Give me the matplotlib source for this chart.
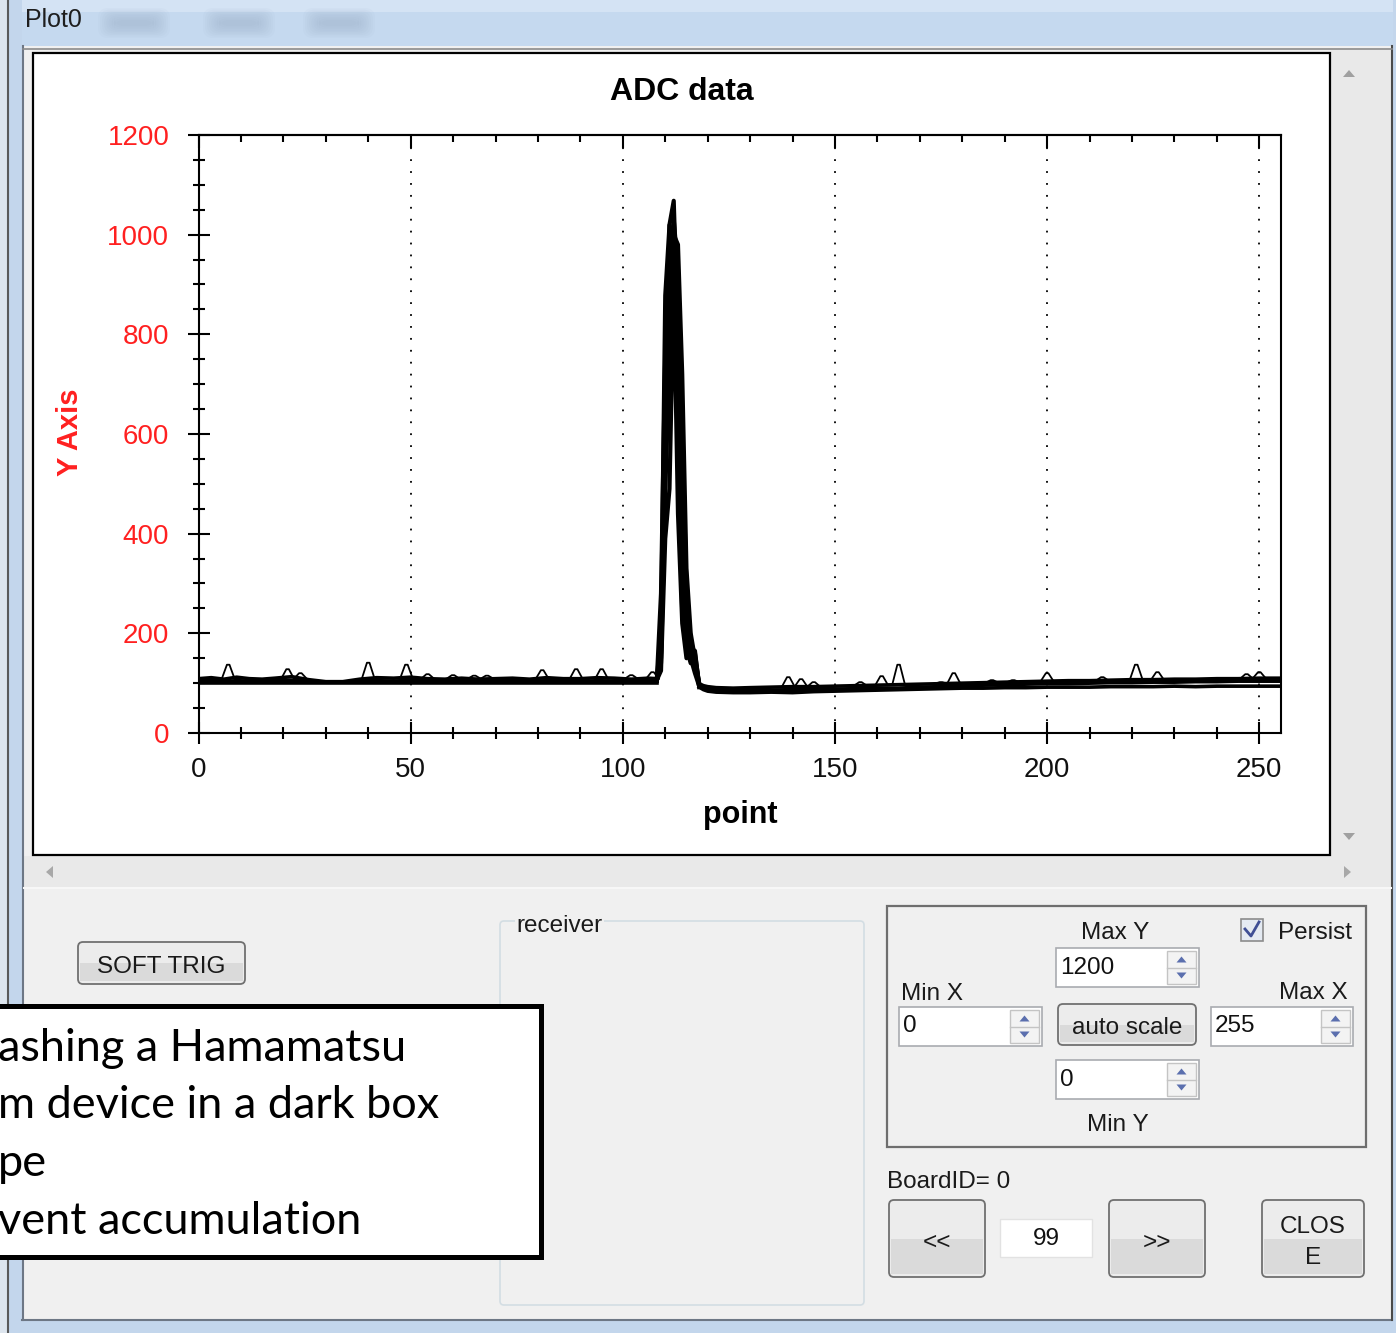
import matplotlib
matplotlib.use("Agg")
import matplotlib.pyplot as plt
from matplotlib.patches import Rectangle, FancyBboxPatch, Polygon
from matplotlib.ticker import MultipleLocator

plt.rcParams['font.family'] = ['Liberation Sans', 'DejaVu Sans']

# ---- data (persisted ADC traces) ----
pre_x = [0, 3, 6, 9, 12, 15, 18, 22, 26, 30, 34, 38, 42, 46, 50, 54, 58, 62, 66, 70, 74, 78, 82, 86, 90, 94, 98, 102, 106, 108]
pre_lo = [100, 100, 100, 100, 100, 100, 100, 100, 100, 100, 100, 100, 100, 100, 100, 100, 100, 100, 100, 100, 100, 100, 100, 100, 100, 100, 100, 100, 100, 100]
pre_mid = [104, 106, 103, 105, 104, 103, 105, 106, 103, 102, 102, 104, 105, 104, 106, 104, 103, 104, 103, 104, 104, 103, 105, 104, 103, 105, 104, 103, 104, 104]
pre_hi = [109, 111, 108, 112, 109, 108, 110, 113, 107, 103, 103, 108, 111, 110, 112, 109, 108, 110, 108, 109, 110, 108, 111, 109, 109, 111, 110, 108, 110, 109]

post_x = [118, 119, 120, 122, 126, 130, 135, 140, 145, 150, 155, 160, 165, 170, 175, 180, 185, 190, 195, 200, 205, 210, 215, 220, 225, 230, 235, 240, 245, 250, 255]
post_lo = [92, 87, 84, 82, 81, 81, 82, 81, 83, 84, 85, 86, 87, 88, 89, 90, 90, 91, 91, 92, 92, 92, 93, 93, 93, 94, 93, 94, 94, 94, 94]
post_mid = [96, 91, 88, 86, 85, 86, 86, 87, 87, 88, 89, 90, 90, 92, 93, 95, 96, 97, 98, 99, 99, 100, 101, 101, 102, 102, 103, 103, 104, 104, 104]
post_hi = [99, 95, 93, 91, 90, 91, 92, 93, 93, 94, 95, 96, 97, 98, 99, 100, 101, 102, 103, 104, 105, 105, 106, 107, 107, 108, 108, 109, 109, 110, 110]

# pulse region, one list per recorded event (samples 108..118)
peak_x = [106, 108, 109, 110, 111, 112, 113, 114, 115, 116, 117, 118]
peak_a = [104, 104, 150, 610, 1020, 1068, 800, 380, 232, 160, 150, 95]
peak_b = [103, 103, 190, 878, 1019, 958, 610, 240, 170, 140, 165, 92]
peak_c = [106, 106, 125, 390, 490, 900, 440, 220, 150, 175, 130, 98]
peak_d = [104, 104, 280, 760, 940, 1030, 930, 560, 260, 190, 140, 96]
peak_e = [105, 105, 140, 480, 760, 1000, 980, 720, 330, 200, 150, 100]
peak_f = [103, 103, 210, 640, 880, 820, 700, 470, 210, 150, 120, 94]
peak_g = [104, 104, 160, 560, 660, 740, 650, 600, 290, 180, 160, 97]

spike_x = [7, 21, 24, 40, 49, 54, 60, 65, 68, 81, 89, 95, 102, 107, 139, 142, 145, 156, 161, 165,
           175, 178, 187, 192, 200, 213, 221, 226, 234, 247, 250]
spike_top = [137, 128, 120, 141, 137, 118, 116, 115, 115, 126, 128, 128, 116, 122, 112, 108, 102, 102, 114, 137,
             102, 120, 106, 106, 120, 112, 137, 122, 108, 118, 122]
spike_base = [109, 109, 109, 109, 109, 109, 109, 109, 109, 109, 109, 109, 109, 109, 93, 93, 93, 95, 96, 97,
              99, 100, 101, 102, 104, 105, 107, 107, 108, 109, 110]

x_ticks = [0, 50, 100, 150, 200, 250]
y_ticks = [0, 200, 400, 600, 800, 1000, 1200]

note_lines = ["ashing a Hamamatsu", "m device in a dark box", "pe", "vent accumulation"]

W, H = 1396, 1333
fig = plt.figure(figsize=(W / 100, H / 100), dpi=100)
fig.patch.set_facecolor('#f0f0f0')

bg = fig.add_axes([0, 0, 1, 1])
bg.set_xlim(0, W)
bg.set_ylim(H, 0)
bg.axis('off')


def box(x0, y0, x1, y1, fc='white', ec='none', lw=1.0, z=2):
    bg.add_patch(Rectangle((x0, y0), x1 - x0, y1 - y0, fc=fc, ec=ec, lw=lw, zorder=z))


def button(x0, y0, x1, y1, lines, fs=17.5):
    ym = (y0 + y1) / 2
    bg.add_patch(FancyBboxPatch((x0, y0), x1 - x0, y1 - y0, boxstyle='round,pad=0,rounding_size=5',
                                fc='#ececec', ec='#707070', lw=1.3, zorder=3))
    box(x0 + 2, ym, x1 - 2, y1 - 3, fc='#dadada', z=3)
    n = len(lines)
    for i, s in enumerate(lines):
        yy = ym + 4 + (i - (n - 1) / 2) * 31
        bg.text((x0 + x1) / 2, yy, s, ha='center', va='center', fontsize=fs, color='#1a1a1a', zorder=4)


def spinbox(x0, y0, x1, y1, val):
    box(x0, y0, x1, y1, fc='white', ec='#a9abb0', lw=1.2, z=3)
    bx = x1 - 32
    box(bx, y0 + 3, x1 - 3, y1 - 3, fc='#f3f3f3', ec='#c4c4c4', lw=1, z=4)
    ym = (y0 + y1) / 2
    bg.plot([bx, x1 - 3], [ym, ym], color='#c4c4c4', lw=1, zorder=5)
    cx = (bx + x1 - 3) / 2
    bg.add_patch(Polygon([[cx - 5, ym - 5], [cx + 5, ym - 5], [cx, ym - 11]], fc='#5b6fae', ec='none', zorder=5))
    bg.add_patch(Polygon([[cx - 5, ym + 5], [cx + 5, ym + 5], [cx, ym + 11]], fc='#5b6fae', ec='none', zorder=5))
    bg.text(x0 + 4, ym, val, ha='left', va='center', fontsize=17.5, color='#111111', zorder=5)


def label(x, y, s, ha='left'):
    bg.text(x, y, s, ha=ha, va='center', fontsize=17.5, color='#1a1a1a', zorder=3)


# window frame and title bar
box(0, 0, W, 46, fc='#c5d9ef', z=1)
box(0, 0, W, 12, fc='#d4e3f4', z=1)
for mx in (98, 203, 303):
    for k in range(9):
        bg.add_patch(FancyBboxPatch((mx + k * 2, 8 + k * 1.5), 72 - k * 4, 30 - k * 3,
                                    boxstyle='round,pad=0,rounding_size=10', fc='#8fa3bd', ec='none',
                                    alpha=0.05, zorder=1.5))
bg.text(25, 20, 'Plot0', ha='left', va='center', fontsize=18, color='#1e1e1e', zorder=3)
box(0, 0, 8, H, fc='#dde5ee', z=1)
bg.plot([8, 8], [0, H], color='#5a5a5a', lw=1.5, zorder=2)
box(9, 0, 22, H, fc='#c3d6ec', z=1)
bg.plot([22.5, 22.5], [46, 1320], color='#6d7785', lw=1.5, zorder=2)
box(9, 1320, W, H, fc='#c3d6ec', z=1)
bg.plot([22, 1392], [1320, 1320], color='#6d7785', lw=1.5, zorder=2)
bg.plot([1392, 1392], [46, 1320], color='#4a4a4a', lw=1.5, zorder=2)
box(1393, 0, W, H, fc='#c3d6ec', z=1)

# plot panel with scrollbars
bg.plot([23, 1392], [49, 49], color='#8a8a8a', lw=1.2, zorder=2)
box(33, 53, 1330, 855, fc='white', ec='#000000', lw=1.6, z=2)
box(1331, 50, 1391, 888, fc='#e9e9e9', z=1.5)
box(24, 856, 1391, 888, fc='#e9e9e9', z=1.5)
bg.plot([24, 1391], [888, 888], color='#f7f7f7', lw=1.5, zorder=2)
bg.add_patch(Polygon([[1343, 77], [1355, 77], [1349, 70]], fc='#a0a0a0', ec='none', zorder=3))
bg.add_patch(Polygon([[1343, 833], [1355, 833], [1349, 840]], fc='#a0a0a0', ec='none', zorder=3))
bg.add_patch(Polygon([[53, 866], [53, 878], [46, 872]], fc='#a8a8a8', ec='none', zorder=3))
bg.add_patch(Polygon([[1344, 866], [1344, 878], [1351, 872]], fc='#a8a8a8', ec='none', zorder=3))

# lower controls
button(78, 942, 245, 984, ['SOFT TRIG'])
bg.add_patch(FancyBboxPatch((500, 921), 364, 384, boxstyle='round,pad=0,rounding_size=4',
                            fc='none', ec='#d3dde3', lw=1.2, zorder=2))
bg.text(516, 926, 'receiver', ha='left', va='center', fontsize=17.5, color='#1a1a1a', zorder=3,
        bbox=dict(fc='#f0f0f0', ec='none', pad=1))

box(887, 906, 1366, 1147, fc='none', ec='#6e6e6e', lw=1.6, z=2)
label(1115, 933, 'Max Y', ha='center')
box(1241, 919, 1263, 941, fc='#e4eaf2', ec='#8c8c8c', lw=1.2, z=3)
bg.plot([1245, 1251, 1259], [929, 936, 922], color='#3f4f95', lw=2.0, zorder=4)
label(1278, 933, 'Persist')
spinbox(1056, 948, 1199, 987, '1200')
label(901, 994, 'Min X')
label(1348, 993, 'Max X', ha='right')
spinbox(899, 1007, 1042, 1046, '0')
button(1058, 1004, 1196, 1045, ['auto scale'])
spinbox(1211, 1007, 1353, 1046, '255')
spinbox(1056, 1060, 1199, 1099, '0')
label(1118, 1125, 'Min Y', ha='center')

label(887, 1182, 'BoardID= 0')
button(889, 1200, 985, 1277, ['<<'])
box(1000, 1219, 1092, 1257, fc='white', ec='#e2e2e2', lw=1, z=3)
bg.text(1046, 1239, '99', ha='center', va='center', fontsize=17.5, color='#111111', zorder=4)
button(1109, 1200, 1205, 1277, ['>>'])
button(1262, 1200, 1364, 1277, ['CLOS', 'E'])

# overlay note box
box(-10, 1006, 541, 1257, fc='white', ec='black', lw=3.6, z=6)
for i, s in enumerate(note_lines):
    bg.text(-2, 1061 + i * 57.5, s, ha='left', va='baseline', fontsize=32.5, family=['Lato', 'DejaVu Sans'],
            color='black', zorder=7)

# ---- the ADC chart ----
l, r, t, b = 198.5, 1280.5, 135, 733
ax = fig.add_axes([l / W, 1 - b / H, (r - l) / W, (b - t) / H])
ax.set_xlim(0, 255)
ax.set_ylim(0, 1200)
ax.set_facecolor('white')

for tr in (pre_lo, pre_mid, pre_hi):
    ax.plot(pre_x, tr, color='black', lw=2.6)
for tr in (post_lo, post_mid, post_hi):
    ax.plot(post_x, tr, color='black', lw=2.6)
for pk in (peak_a, peak_b, peak_c, peak_d, peak_e, peak_f, peak_g):
    ax.plot(peak_x, pk, color='black', lw=3.0)
for sx, st, sb in zip(spike_x, spike_top, spike_base):
    ax.plot([sx - 1.5, sx - 0.3, sx + 0.3, sx + 1.5], [sb, st, st, sb], color='black', lw=1.3)

ax.set_xticks(x_ticks)
ax.set_yticks(y_ticks)
ax.xaxis.set_minor_locator(MultipleLocator(10))
ax.yaxis.set_minor_locator(MultipleLocator(50))
ax.tick_params(which='major', direction='inout', length=16, width=1.5, labelsize=20)
ax.tick_params(which='minor', direction='inout', length=8, width=1.5)
ax.tick_params(axis='y', which='major', pad=13, labelcolor='#ff2020')
ax.tick_params(axis='x', which='major', pad=9, labelcolor='#111111')
for sp in ax.spines.values():
    sp.set_linewidth(1.5)
ax.grid(axis='x', which='major', color='black', linestyle=(0, (1, 5.6)), lw=1.3)

top = ax.secondary_xaxis('top')
top.set_xticks(x_ticks)
top.xaxis.set_minor_locator(MultipleLocator(10))
top.tick_params(which='major', direction='in', length=9, width=1.5, labeltop=False)
top.tick_params(which='minor', direction='in', length=5, width=1.5)
top.spines['top'].set_linewidth(1.5)

bg.text(682, 92, 'ADC data', ha='center', va='center', fontsize=23, fontweight='bold', color='black', zorder=3)
bg.text(70, 432, 'Y Axis', ha='center', va='center', rotation=90, fontsize=21, fontweight='bold',
        color='#ff2020', zorder=3)
bg.text(740, 815, 'point', ha='center', va='center', fontsize=22, fontweight='bold', color='black', zorder=3)

fig.savefig('out.png', dpi=100, facecolor=fig.get_facecolor())
